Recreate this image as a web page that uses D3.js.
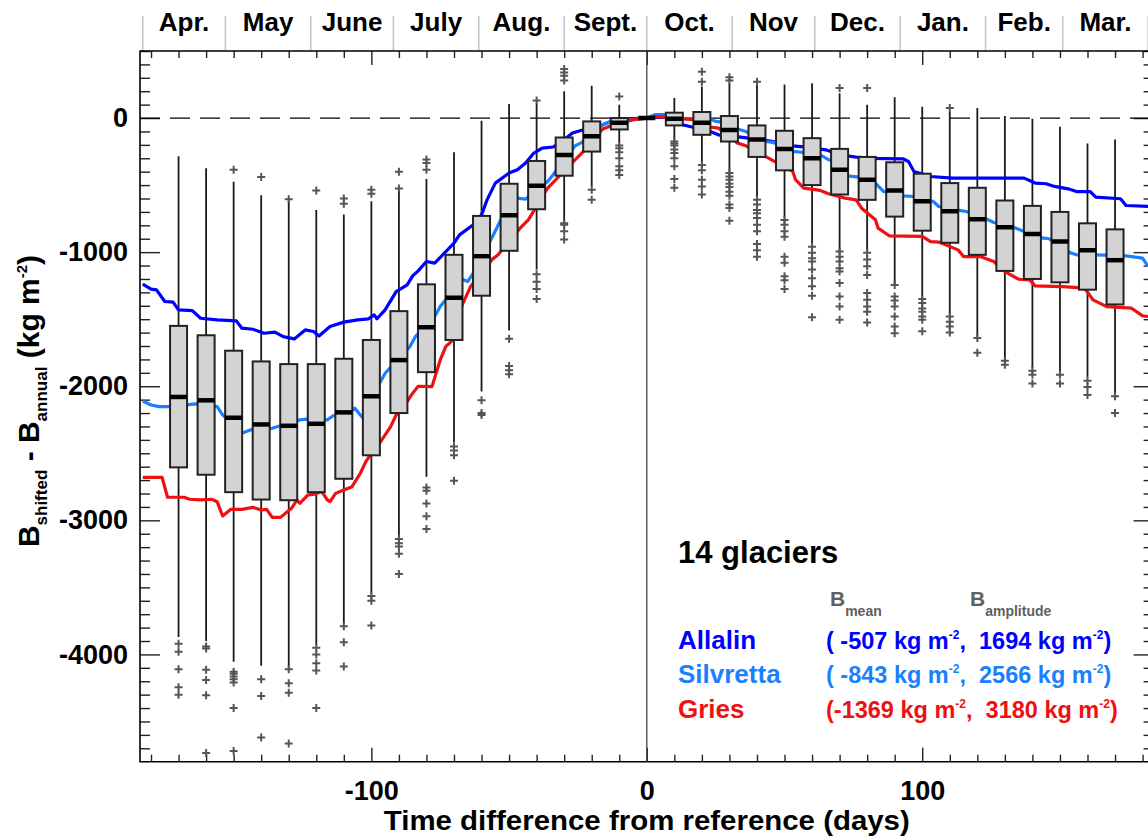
<!DOCTYPE html>
<html><head><meta charset="utf-8">
<script src="https://cdn.jsdelivr.net/npm/d3@7"></script>
<style>
body{margin:0;background:#fff;}
svg{display:block;font-family:"Liberation Sans",Arial,Helvetica,sans-serif;font-weight:bold;}
text{white-space:pre;}
</style></head>
<body><svg id="c" width="1148" height="839"></svg>
<script>
// ---------------- DATA ----------------
const monthLabels = ["Apr.","May","June","July","Aug.","Sept.","Oct.","Nov","Dec.","Jan.","Feb.","Mar."];
const monthStarts = [-183,-153,-122,-92,-61,-30,0,31,61,92,123,151,182];
const xMajorTicks = [-100,0,100];
const yMajorTicks = [0,-1000,-2000,-3000,-4000];

const boxDays    = [-170,-160,-150,-140,-130,-120,-110,-100,-90,-80,-70,-60,-50,-40,-30,-20,-10,0,10,20,30,40,50,60,70,80,90,100,110,120,130,140,150,160,170];
const whiskerLow = [-3870,-3900,-4055,-4085,-4100,-3930,-3770,-3545,-3130,-2675,-2420,-2040,-1585,-1130,-770,-510,-185,0,-160,-335,-400,-600,-745,-945,-985,-995,-1245,-1345,-1465,-1630,-1805,-1865,-1905,-1930,-2065];
const boxQ1      = [-2605,-2660,-2790,-2845,-2850,-2790,-2690,-2515,-2200,-1895,-1655,-1325,-990,-680,-430,-250,-85,0,-55,-125,-175,-290,-390,-500,-570,-610,-735,-840,-930,-1020,-1140,-1200,-1225,-1280,-1390];
const boxMedian  = [-2080,-2105,-2235,-2285,-2295,-2280,-2195,-2075,-1805,-1560,-1340,-1030,-725,-505,-275,-135,-35,0,-5,-35,-90,-160,-230,-300,-385,-460,-540,-620,-695,-755,-815,-865,-920,-985,-1060];
const boxQ3      = [-1550,-1620,-1735,-1815,-1835,-1835,-1795,-1655,-1440,-1240,-1020,-730,-490,-320,-145,-25,0,0,40,45,15,-55,-95,-150,-230,-290,-330,-415,-485,-520,-615,-655,-700,-785,-830];
const whiskerHigh= [-285,-375,-475,-575,-620,-685,-720,-620,-540,-455,-255,-20,105,110,200,240,100,0,150,235,260,250,250,260,185,100,155,85,50,75,15,-5,-65,-190,-160];
const outliers = [
  [-3920,-3980,-4110,-4245,-4300],
  [-3940,-3955,-4115,-4190,-4305,-4735],
  [-385,-4130,-4145,-4165,-4185,-4210,-4400,-4720],
  [-440,-4185,-4310,-4620],
  [-605,-4110,-4215,-4285,-4665],
  [-540,-3950,-4000,-4065,-4120,-4400],
  [-600,-640,-3790,-3910,-4090],
  [-535,-565,-3565,-3600,-3785],
  [-400,-525,-3140,-3170,-3195,-3250,-3400],
  [-310,-335,-385,-2755,-2780,-2875,-2970,-3065],
  [-2450,-2480,-2515,-2705],
  [-2105,-2200,-2215],
  [-1645,-1850,-1880,-1910],
  [130,-1165,-1220,-1275,-1350],
  [365,340,315,280,-785,-795,-845,-905],
  [-535,-610],
  [160,-205,-225,-255,-300,-360,-390,-425],
  [],
  [-175,-190,-205,-235,-260,-300,-360,-455,-520],
  [345,270,-350,-390,-460,-510,-570],
  [305,280,-410,-435,-460,-490,-515,-550,-580,-645,-670,-765],
  [270,-610,-645,-685,-710,-745,-795,-845,-940,-985,-1035],
  [-760,-795,-845,-885,-1035,-1080,-1180,-1210,-1275],
  [-960,-1005,-1045,-1070,-1130,-1195,-1255,-1325,-1485],
  [225,-995,-1035,-1070,-1120,-1145,-1230,-1330,-1405,-1505],
  [225,-1005,-1055,-1105,-1170,-1305,-1355,-1405,-1445,-1525],
  [-1245,-1330,-1360,-1405,-1480,-1555,-1605],
  [-1350,-1380,-1420,-1445,-1480,-1505,-1590],
  [75,-1480,-1520,-1555,-1600],
  [-1640,-1750],
  [-1810,-1840],
  [-1885,-1915,-1980],
  [-1915,-1980],
  [-1960,-2005,-2065],
  [-2075,-2200]
];

const allalinLine = [[-183,-1239],[-180,-1276],[-178,-1281],[-175,-1368],[-172,-1373],[-170,-1431],[-165,-1436],[-162,-1493],[-156,-1505],[-149,-1513],[-147,-1567],[-143,-1575],[-139,-1605],[-135,-1597],[-132,-1630],[-128,-1647],[-124,-1580],[-121,-1592],[-119,-1625],[-115,-1555],[-110,-1522],[-105,-1505],[-101,-1497],[-99,-1468],[-98,-1497],[-95,-1431],[-91,-1294],[-87,-1244],[-85,-1177],[-83,-1140],[-80,-1070],[-77,-1082],[-70,-933],[-68,-871],[-63,-796],[-60,-722],[-58,-610],[-55,-485],[-50,-410],[-47,-386],[-44,-336],[-41,-261],[-38,-224],[-34,-216],[-30,-162],[-27,-112],[-23,-87],[-17,-57],[-13,-25],[-10,-7],[0,0],[6,12],[13,-50],[23,-100],[26,-125],[34,-142],[40,-157],[46,-175],[53,-207],[58,-217],[65,-237],[70,-274],[76,-291],[82,-301],[93,-304],[95,-324],[97,-398],[103,-436],[111,-448],[137,-448],[141,-485],[145,-490],[148,-510],[153,-528],[156,-548],[161,-548],[163,-590],[172,-602],[174,-652],[183,-660]];
const silvrettaLine = [[-183,-2110],[-180,-2140],[-177,-2152],[-173,-2152],[-164,-2132],[-156,-2152],[-154,-2214],[-147,-2351],[-144,-2326],[-136,-2314],[-134,-2301],[-126,-2251],[-124,-2246],[-116,-2251],[-114,-2222],[-106,-2164],[-104,-2214],[-103,-2239],[-97,-1978],[-95,-1903],[-86,-1704],[-84,-1630],[-77,-1480],[-75,-1406],[-67,-1202],[-65,-1219],[-63,-1157],[-56,-883],[-53,-759],[-47,-597],[-44,-604],[-36,-473],[-34,-423],[-26,-207],[-24,-187],[-16,-50],[-13,-25],[-5,-12],[0,0],[3,25],[6,25],[14,-7],[17,-5],[23,-7],[25,-25],[27,-30],[33,-82],[36,-100],[43,-175],[46,-182],[53,-249],[57,-257],[63,-274],[66,-311],[67,-316],[73,-431],[77,-441],[83,-485],[86,-548],[93,-580],[97,-585],[104,-622],[106,-660],[114,-690],[116,-697],[124,-759],[126,-779],[134,-821],[137,-846],[144,-896],[146,-900],[154,-1007],[156,-1020],[163,-1020],[174,-1028],[180,-1045],[182,-1107]];
const griesLine = [[-183,-2679],[-176,-2679],[-174,-2828],[-168,-2828],[-166,-2843],[-162,-2848],[-158,-2843],[-156,-2861],[-154,-2968],[-151,-2918],[-147,-2918],[-143,-2903],[-140,-2923],[-138,-2918],[-136,-2978],[-133,-2978],[-129,-2910],[-127,-2848],[-126,-2873],[-123,-2811],[-121,-2806],[-118,-2786],[-116,-2848],[-115,-2861],[-113,-2799],[-110,-2774],[-107,-2749],[-104,-2649],[-102,-2562],[-100,-2500],[-97,-2425],[-93,-2301],[-91,-2214],[-87,-2115],[-85,-2052],[-83,-2000],[-78,-2003],[-75,-1804],[-73,-1704],[-71,-1667],[-67,-1393],[-64,-1257],[-56,-1052],[-54,-1020],[-46,-821],[-43,-759],[-36,-522],[-33,-460],[-26,-311],[-23,-249],[-16,-82],[-13,-57],[-5,-12],[0,0],[3,12],[14,-7],[17,-12],[23,-67],[26,-75],[33,-187],[36,-207],[43,-286],[46,-319],[53,-398],[54,-460],[57,-522],[63,-540],[66,-565],[72,-597],[76,-610],[78,-672],[83,-759],[84,-821],[88,-878],[100,-883],[103,-921],[106,-925],[113,-983],[115,-1033],[121,-1033],[126,-1070],[130,-1145],[135,-1202],[139,-1207],[141,-1252],[151,-1257],[159,-1269],[162,-1356],[167,-1406],[176,-1418],[180,-1475],[182,-1480]];

const glacierNames  = ["Allalin","Silvretta","Gries"];
const glacierMean   = [" -507"," -843","-1369"];
const glacierAmp    = ["1694","2566","3180"];
const glacierColors = ["#0000ff","#1a80ff","#ee1111"];
const glacierLines  = [allalinLine, silvrettaLine, griesLine];

// ---------------- DRAW ----------------
const svg = d3.select("#c");
const L=140, R=1153.6, T=51, B=761.7;
const x = d3.scaleLinear().domain([-184,184]).range([L,R]);
const y = d3.scaleLinear().domain([-4800,500]).range([B,T]);
const plainFmt = d => String(d);

svg.append("defs").append("clipPath").attr("id","clip")
  .append("rect").attr("x",L).attr("y",T).attr("width",R-L).attr("height",B-T);

// month band
const mg = svg.append("g");
monthStarts.forEach(d=>{
  mg.append("line").attr("x1",x(d)).attr("x2",x(d)).attr("y1",16).attr("y2",T)
    .attr("stroke","#c4c4c4").attr("stroke-width",1.5);
});
monthLabels.forEach((m,i)=>{
  mg.append("text").attr("x",(x(monthStarts[i])+x(monthStarts[i+1]))/2).attr("y",31)
    .attr("text-anchor","middle").attr("font-size",26).text(m);
});

// minor/major ticks via axes
const xMinor = d3.range(-180,181,10).filter(v=>!xMajorTicks.includes(v));
const yMinor = d3.range(-4700,501,100).filter(v=>v%1000!==0);
function styleAxis(g){ g.select(".domain").remove(); g.selectAll(".tick line").attr("stroke","#222").attr("stroke-width",1.4); }
svg.append("g").attr("transform",`translate(0,${B})`).call(d3.axisBottom(x).tickValues(xMinor).tickSize(-7).tickFormat("")).call(styleAxis);
svg.append("g").attr("transform",`translate(0,${B})`).call(d3.axisBottom(x).tickValues(xMajorTicks).tickSize(-14).tickPadding(19).tickFormat(plainFmt)).call(styleAxis)
  .selectAll("text").attr("font-size",27).attr("font-family","Liberation Sans, Arial, sans-serif").attr("font-weight","bold").attr("fill","#000");
svg.append("g").attr("transform",`translate(0,${T})`).call(d3.axisTop(x).tickValues(xMinor).tickSize(-7).tickFormat("")).call(styleAxis);
svg.append("g").attr("transform",`translate(0,${T})`).call(d3.axisTop(x).tickValues(xMajorTicks).tickSize(-14).tickFormat("")).call(styleAxis);
svg.append("g").attr("transform",`translate(${L},0)`).call(d3.axisLeft(y).tickValues(yMinor).tickSize(-10).tickFormat("")).call(styleAxis);
svg.append("g").attr("transform",`translate(${L},0)`).call(d3.axisLeft(y).tickValues(yMajorTicks).tickSize(-20).tickPadding(12).tickFormat(plainFmt)).call(styleAxis)
  .selectAll("text").attr("font-size",27).attr("font-family","Liberation Sans, Arial, sans-serif").attr("font-weight","bold").attr("fill","#000");
svg.append("g").attr("transform",`translate(${R},0)`).call(d3.axisRight(y).tickValues(yMinor).tickSize(-10).tickFormat("")).call(styleAxis);
svg.append("g").attr("transform",`translate(${R},0)`).call(d3.axisRight(y).tickValues(yMajorTicks).tickSize(-20).tickFormat("")).call(styleAxis);

// frame
svg.append("path").attr("d",`M${L},${T}H${R}V${B}H${L}Z`).attr("fill","none").attr("stroke","#000").attr("stroke-width",1.6);

const plot = svg.append("g").attr("clip-path","url(#clip)");
// zero lines
plot.append("line").attr("x1",L).attr("x2",R).attr("y1",y(0)).attr("y2",y(0))
  .attr("stroke","#000").attr("stroke-width",1.3).attr("stroke-dasharray","20,10");
plot.append("line").attr("x1",x(0)).attr("x2",x(0)).attr("y1",T).attr("y2",B)
  .attr("stroke","#444").attr("stroke-width",1.3);

const bw = 17;
// whiskers
boxDays.forEach((d,i)=>{
  plot.append("line").attr("x1",x(d)).attr("x2",x(d)).attr("y1",y(whiskerHigh[i])).attr("y2",y(whiskerLow[i]))
    .attr("stroke","#1a1a1a").attr("stroke-width",1.8);
});
// glacier lines
const lineGen = d3.line().x(d=>x(d[0])).y(d=>y(d[1]));
glacierLines.forEach((ln,i)=>{
  plot.append("path").attr("d",lineGen(ln)).attr("fill","none").attr("stroke",glacierColors[i])
    .attr("stroke-width",3.2).attr("stroke-linejoin","round");
});
// boxes
boxDays.forEach((d,i)=>{
  const top=y(boxQ3[i]), bot=y(boxQ1[i]);
  plot.append("rect").attr("x",x(d)-bw/2).attr("y",top).attr("width",bw).attr("height",Math.max(0,bot-top))
    .attr("fill","#d3d3d3").attr("stroke","#222").attr("stroke-width",2);
  plot.append("line").attr("x1",x(d)-bw/2).attr("x2",x(d)+bw/2).attr("y1",y(boxMedian[i])).attr("y2",y(boxMedian[i]))
    .attr("stroke","#000").attr("stroke-width",4.5);
});
// outliers
boxDays.forEach((d,i)=>{
  outliers[i].forEach(v=>{
    const cx=x(d), cy=y(v), s=4;
    plot.append("path").attr("d",`M${cx-s},${cy}H${cx+s}M${cx},${cy-s}V${cy+s}`)
      .attr("stroke","#555").attr("stroke-width",2);
  });
});

// axis titles
svg.append("text").attr("x",x(0)).attr("y",830).attr("text-anchor","middle").attr("font-size",27)
  .attr("textLength",526).attr("lengthAdjust","spacingAndGlyphs").text("Time difference from reference (days)");
const yt = svg.append("text").attr("transform","translate(39,401) rotate(-90)").attr("text-anchor","middle").attr("font-size",30);
yt.append("tspan").text("B");
yt.append("tspan").attr("font-size",17).attr("dy",8).text("shifted");
yt.append("tspan").attr("dy",-8).text(" - B");
yt.append("tspan").attr("font-size",17).attr("dy",8).text("annual");
yt.append("tspan").attr("dy",-8).text(" (kg m");
yt.append("tspan").attr("font-size",15).attr("dy",-12).text("-2");
yt.append("tspan").attr("dy",12).text(")");

// legend
svg.append("text").attr("x",678).attr("y",563).attr("font-size",31).text("14 glaciers");
const hb = svg.append("text").attr("x",830).attr("y",606).attr("font-size",21).attr("fill","#606060");
hb.append("tspan").text("B");
hb.append("tspan").attr("font-size",14).attr("dy",10).text("mean");
const ha = svg.append("text").attr("x",970).attr("y",606).attr("font-size",21).attr("fill","#606060");
ha.append("tspan").text("B");
ha.append("tspan").attr("font-size",14).attr("dy",10).text("amplitude");
const rowY = [649,683,718];
glacierNames.forEach((n,i)=>{
  svg.append("text").attr("x",678).attr("y",rowY[i]).attr("font-size",26).attr("fill",glacierColors[i]).text(n);
  const t = svg.append("text").attr("x",826).attr("y",rowY[i]).attr("font-size",23.5).attr("fill",glacierColors[i]);
  t.append("tspan").text("("+glacierMean[i]+" kg m");
  t.append("tspan").attr("font-size",12).attr("dy",-10).text("-2");
  t.append("tspan").attr("dy",10).text(",  "+glacierAmp[i]+" kg m");
  t.append("tspan").attr("font-size",12).attr("dy",-10).text("-2");
  t.append("tspan").attr("dy",10).text(")");
});
</script></body></html>
